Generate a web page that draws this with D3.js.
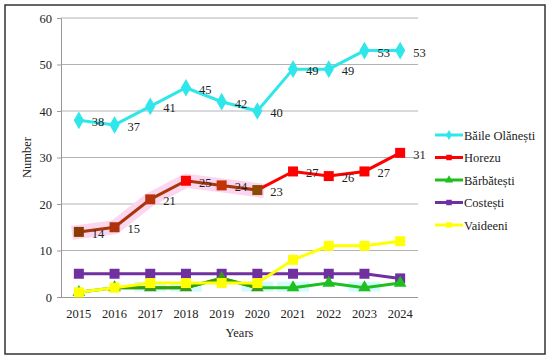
<!DOCTYPE html>
<meta charset="utf-8">
<head>
<script src="https://cdn.jsdelivr.net/npm/d3@7"></script>
<style>
  body { margin: 0; background: #fff; }
  text { font-family: "Liberation Serif", "Times New Roman", serif; fill: #222; }
</style>
</head>
<body>
<svg id="chart" width="550" height="359"></svg>
<script>

var years = [2015, 2016, 2017, 2018, 2019, 2020, 2021, 2022, 2023, 2024];
var yTicks = [0, 10, 20, 30, 40, 50, 60];

var baile    = [38, 37, 41, 45, 42, 40, 49, 49, 53, 53];
var horezu   = [14, 15, 21, 25, 24, 23, 27, 26, 27, 31];
var barbat   = [1, 2, 2, 2, 4, 2, 2, 3, 2, 3];
var costesti = [5, 5, 5, 5, 5, 5, 5, 5, 5, 4];
var vaideeni = [1, 2, 3, 3, 3, 3, 8, 11, 11, 12];

var seriesNames = ["Băile Olănești", "Horezu", "Bărbătești", "Costești", "Vaideeni"];

var series = [
  { name: seriesNames[0], values: baile,    color: "#2fe6ea", shape: d3.symbolDiamond,  labels: true },
  { name: seriesNames[1], values: horezu,   color: "#ff0000", shape: d3.symbolSquare,   labels: true },
  { name: seriesNames[2], values: barbat,   color: "#1fbf1f", shape: d3.symbolTriangle, labels: false },
  { name: seriesNames[3], values: costesti, color: "#7030a0", shape: d3.symbolSquare,   labels: false },
  { name: seriesNames[4], values: vaideeni, color: "#ffff00", shape: d3.symbolSquare,   labels: false }
];

var svg = d3.select("#chart");

// outer frame
svg.append("rect")
  .attr("x", 5).attr("y", 5)
  .attr("width", 540).attr("height", 349)
  .attr("fill", "none")
  .attr("stroke", "#333")
  .attr("stroke-width", 1.5);

var plotL = 61, plotR = 418, plotT = 18, plotB = 297;

var x = d3.scaleBand().domain(years).range([plotL, plotR]);
var y = d3.scaleLinear().domain([0, 60]).range([plotB, plotT]);
var cx = function(i) { return x(years[i]) + x.bandwidth() / 2; };

// gridlines
svg.append("g").selectAll("line")
  .data(yTicks.slice(1))
  .enter().append("line")
  .attr("x1", plotL).attr("x2", plotR)
  .attr("y1", function(d) { return y(d); })
  .attr("y2", function(d) { return y(d); })
  .attr("stroke", "#b3b3b3").attr("stroke-width", 1);

// y axis
var yAxis = svg.append("g")
  .attr("transform", "translate(" + plotL + ",0)")
  .call(d3.axisLeft(y).tickValues(yTicks).tickSize(4).tickPadding(5));
yAxis.select(".domain").attr("stroke", "#999");
yAxis.selectAll(".tick line").attr("stroke", "#999");
yAxis.selectAll("text").style("font-size", "12.5px").attr("fill", "#222");

// x axis
var xAxis = svg.append("g")
  .attr("transform", "translate(0," + plotB + ")")
  .call(d3.axisBottom(x).tickSize(0).tickPadding(12));
xAxis.select(".domain").attr("stroke", "#999").attr("d", "M" + plotL + ",0.5H" + plotR);
xAxis.selectAll("text").style("font-size", "12.5px").attr("fill", "#222");

svg.append("text")
  .attr("x", (plotL + plotR) / 2).attr("y", 337)
  .attr("text-anchor", "middle")
  .style("font-size", "12.5px")
  .text("Years");

svg.append("text")
  .attr("transform", "translate(31," + ((plotT + plotB) / 2) + ") rotate(-90)")
  .attr("text-anchor", "middle")
  .style("font-size", "12.5px")
  .text("Number");

var line = d3.line()
  .x(function(d, i) { return cx(i); })
  .y(function(d) { return y(d); });

// soft halos behind some segments (as in the source image)
var halo = d3.line()
  .x(function(d) { return cx(d); })
  .y(function(d) { return y(horezu[d]); });
svg.append("path")
  .attr("d", halo([0, 1, 2, 3, 4, 5]))
  .attr("fill", "none").attr("stroke", "#fcd6ef")
  .attr("stroke-width", 14).attr("stroke-linecap", "square").attr("stroke-linejoin", "round");

svg.append("g").selectAll("rect")
  .data([2, 3, 5, 6, 8])
  .enter().append("rect")
  .attr("x", function(d) { return cx(d) - 16; })
  .attr("y", function(d) { return y(barbat[d]) - 6; })
  .attr("width", 32).attr("height", 10)
  .attr("fill", "#d4fbfb");

// lines and markers (draw bottom to top so Baile ends on top)
var order = [3, 2, 4, 1, 0];
order.forEach(function(k) {
  var s = series[k];
  var g = svg.append("g");
  if (k === 1) {
    // first part looks darker in the source
    g.append("path").attr("d", line(s.values.slice(0, 6)))
      .attr("fill", "none").attr("stroke", "#a8360a").attr("stroke-width", 3);
    g.append("path").attr("d", d3.line()
        .x(function(d, i) { return cx(i + 5); })
        .y(function(d) { return y(d); })(s.values.slice(5)))
      .attr("fill", "none").attr("stroke", s.color).attr("stroke-width", 3);
  } else if (k === 2) {
    g.append("path").attr("d", line(s.values))
      .attr("fill", "none").attr("stroke", s.color).attr("stroke-width", 3);
    g.append("path").attr("d", d3.line()
        .x(function(d, i) { return cx(i + 1); })
        .y(function(d) { return y(d); })(s.values.slice(1, 6)))
      .attr("fill", "none").attr("stroke", "#3c9a10").attr("stroke-width", 3);
  } else {
    g.append("path").attr("d", line(s.values))
      .attr("fill", "none").attr("stroke", s.color).attr("stroke-width", 3);
  }
  var hzColors = ["#8a3c00", "#b03208", "#b8320c", "#ff0000", "#c23404", "#8c4a00"];
  var size = s.shape === d3.symbolTriangle ? 70 : (s.shape === d3.symbolDiamond ? 90 : 100);
  g.selectAll("path.m")
    .data(s.values)
    .enter().append("path")
    .attr("class", "m")
    .attr("transform", function(d, i) { return "translate(" + cx(i) + "," + y(d) + ")"; })
    .attr("d", d3.symbol().type(s.shape).size(size))
    .attr("fill", function(d, i) {
      if (k === 1 && i < 6) return hzColors[i];
      if (k === 2 && i > 0 && i < 6) return "#3c9a10";
      return s.color;
    });
  if (s.labels) {
    g.selectAll("text")
      .data(s.values)
      .enter().append("text")
      .attr("x", function(d, i) { return cx(i) + 13; })
      .attr("y", function(d) { return y(d) + 6; })
      .style("font-size", "12.5px")
      .text(function(d) { return d; });
  }
});

// legend
var legend = svg.append("g").attr("transform", "translate(435,135)");
series.forEach(function(s, i) {
  var row = legend.append("g").attr("transform", "translate(0," + (i * 22.5) + ")");
  row.append("line").attr("x1", 0).attr("x2", 28)
    .attr("stroke", s.color).attr("stroke-width", 3);
  row.append("path")
    .attr("transform", "translate(14,0)")
    .attr("d", d3.symbol().type(s.shape).size(30))
    .attr("fill", s.color);
  row.append("text")
    .attr("x", 29).attr("y", 4.5)
    .style("font-size", "12.5px")
    .text(s.name);
});

</script>
</body>
